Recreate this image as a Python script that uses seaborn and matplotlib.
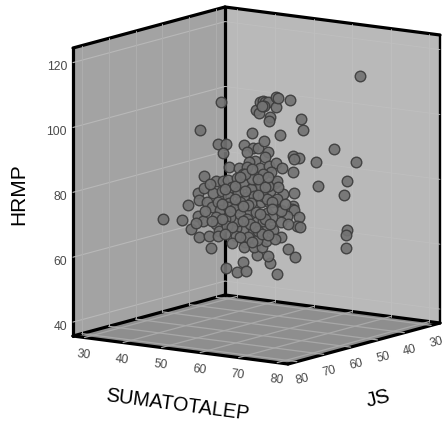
import matplotlib
matplotlib.use('Agg')
import pandas as pd
import matplotlib.pyplot as plt
import seaborn as sns

# values (depth along JS is an estimate)
sumatotalep = [
    74.8, 49.2, 47.2, 48.4, 43.5, 46.2, 44.8, 44.3, 50.4, 55.2,
    50.2, 54.0, 58.8, 49.8, 52.4, 54.4, 60.6, 54.5, 49.4, 55.9,
    55.8, 54.6, 60.0, 65.0, 55.2, 64.4, 60.9, 65.9, 68.1, 57.5,
    67.0, 62.9, 58.4, 61.6, 51.3, 55.5, 59.3, 53.1, 57.1, 61.4,
    49.8, 56.5, 60.0, 64.0, 63.6,
    68.0, 66.8, 73.7, 71.4, 67.4, 70.6, 71.4, 74.6, 71.1, 64.6,
    65.3, 61.3, 60.9, 64.1, 68.1, 65.9, 61.9, 66.2, 66.3, 57.8,
    61.3, 64.8, 63.1, 61.4, 60.2, 61.9, 54.4, 55.0, 54.9, 47.0,
    46.3, 55.7,
    34.1, 42.6, 40.6, 44.9, 43.2, 48.0, 42.7, 47.0, 46.1, 50.1,
    43.2, 47.0, 44.8, 49.1, 47.1, 51.4, 46.8, 44.9, 41.9, 45.9,
    49.7, 47.5, 44.0, 47.8, 52.0, 50.1, 46.3, 51.7, 55.9, 47.1,
    49.8, 56.2, 51.3, 57.6, 59.6, 54.6, 53.7, 59.3, 54.9, 59.7,
    55.0, 53.1, 63.7, 60.5, 50.0, 61.4, 54.2, 53.1, 53.5, 51.0,
    47.1, 49.1, 62.9,
    58.9, 62.7, 53.6, 54.8, 57.2, 47.9, 49.6, 53.3, 44.5, 47.9,
    51.4, 48.7, 44.9, 46.1, 48.5, 55.4, 48.2, 54.2, 59.8, 53.9,
    55.0,
    49.2, 50.6, 50.2, 48.9, 60.1, 53.2, 51.8, 50.7, 54.9,
    57.6, 56.7, 48.0, 45.9, 56.2, 53.6, 58.9,
    57.2, 47.9,
    42.8, 46.7, 49.3, 51.9, 55.3, 57.1, 58.9, 62.3, 63.1, 58.4,
    55.8, 51.4, 48.5, 46.7, 50.6, 53.7, 56.3, 59.7, 43.3, 41.5,
    45.9, 49.3, 55.3, 57.9, 51.9, 50.6, 53.7, 54.5, 57.9, 56.3,
]
js = [
    45, 60, 65, 60, 50, 55, 60, 50, 55, 60,
    50, 55, 60, 45, 55, 50, 60, 55, 50, 60,
    55, 50, 55, 60, 50, 55, 50, 55, 60, 50,
    55, 50, 55, 60, 50, 55, 60, 50, 55, 60,
    45, 50, 55, 60, 55,
    45, 50, 45, 45, 50, 45, 45, 50, 45, 55,
    60, 55, 50, 55, 60, 55, 50, 55, 60, 50,
    55, 60, 55, 50, 55, 60, 50, 55, 60, 55,
    50, 60,
    60, 65, 60, 65, 60, 65, 60, 65, 60, 65,
    60, 65, 60, 65, 60, 65, 60, 55, 50, 55,
    60, 55, 50, 55, 60, 55, 50, 55, 60, 50,
    55, 60, 50, 55, 60, 50, 55, 60, 50, 55,
    55, 50, 60, 55, 50, 60, 55, 50, 55, 60,
    50, 55, 60,
    55, 60, 50, 55, 60, 50, 55, 60, 50, 60,
    65, 60, 55, 50, 55, 60, 50, 55, 60, 50,
    55,
    50, 55, 60, 50, 60, 55, 50, 60, 60,
    55, 50, 55, 55, 60, 50, 55,
    60, 50,
    55, 55, 55, 55, 55, 55, 55, 55, 55, 55,
    55, 55, 55, 55, 55, 55, 55, 55, 55, 55,
    55, 55, 55, 55, 55, 55, 55, 55, 55, 55,
]
hrmp = [
    114.8, 106.0, 98.3, 93.0, 90.1, 88.8, 82.6, 83.1, 84.8, 93.8,
    94.5, 91.5, 93.3, 90.8, 90.0, 89.2, 90.9, 87.6, 85.4, 87.1,
    85.7, 85.0, 87.8, 88.2, 83.2, 85.7, 89.1, 90.3, 91.5, 95.0,
    99.1, 100.8, 101.8, 102.2, 101.8, 102.5, 107.6, 104.7, 106.2, 107.9,
    101.6, 103.5, 108.2, 109.6, 107.9,
    91.1, 88.1, 88.0, 81.9, 80.8, 77.4, 66.8, 66.8, 61.1, 79.3,
    80.2, 73.5, 73.6, 74.2, 75.7, 72.1, 67.6, 69.1, 73.6, 71.6,
    69.8, 66.9, 61.8, 57.9, 53.7, 58.4, 57.1, 58.6, 57.6, 53.4,
    51.0, 55.0,
    67.7, 69.7, 73.0, 67.4, 70.0, 70.3, 67.7, 65.2, 64.3, 62.3,
    77.1, 76.6, 78.9, 76.3, 77.7, 83.2, 73.4, 73.5, 69.4, 77.0,
    81.8, 80.7, 74.0, 73.6, 80.3, 77.4, 80.0, 80.0, 77.8, 72.7,
    72.7, 73.5, 70.3, 72.0, 76.9, 73.9, 79.1, 81.4, 77.3, 81.7,
    82.7, 82.2, 84.0, 80.5, 77.1, 82.0, 76.7, 75.4, 74.5, 74.0,
    70.8, 71.9, 77.7,
    71.0, 68.8, 65.7, 68.8, 67.2, 64.2, 66.2, 70.0, 67.7, 70.4,
    69.9, 66.3, 63.0, 62.1, 61.4, 63.9, 59.0, 61.0, 63.0, 61.8,
    63.3,
    72.2, 70.7, 70.2, 67.8, 71.0, 68.0, 64.5, 68.1, 74.9,
    76.3, 75.1, 71.2, 68.4, 65.5, 68.5, 75.6,
    83.6, 81.4,
    78.7, 77.8, 75.1, 78.0, 77.3, 80.0, 73.4, 75.6, 69.5, 68.8,
    71.5, 68.6, 66.3, 63.9, 63.6, 62.5, 65.3, 64.4, 67.3, 70.2,
    73.0, 79.1, 82.2, 83.2, 83.2, 82.1, 85.0, 67.3, 65.3, 104.8,
]
s_ticks = [30, 40, 50, 60, 70, 80]
j_ticks = [80, 70, 60, 50, 40, 30]
h_ticks = [40, 60, 80, 100, 120]

# axis ranges of the box
S0, S1 = 27.0, 82.8
J0, J1 = 26.7, 83.3   # J1 is the near end on the left wall
H0, H1 = 35.7, 124.5


def project(s, j, h):
    """Parallel projection of the 3D box onto figure pixels."""
    u = (s - S0) / (S1 - S0)
    v = (J1 - j) / (J1 - J0)
    w = (h - H0) / (H1 - H0)
    x = 73 + 215 * u + 152 * v
    y = 337 + 28 * u - 41 * v - 288 * w
    return x, y


def draw3d(ax, a, b, **kw):
    xa, ya = project(*a)
    xb, yb = project(*b)
    ax.plot([xa, xb], [ya, yb], **kw)


def fill3d(ax, corners, color):
    pts = [project(*c) for c in corners]
    ax.fill([p[0] for p in pts], [p[1] for p in pts], color=color, lw=0, zorder=1)


sns.set_theme(style='white')
plt.rcParams['font.family'] = ['Liberation Sans', 'DejaVu Sans']

fig = plt.figure(figsize=(4.45, 4.27), dpi=100)
ax = fig.add_axes([0, 0, 1, 1])
ax.set_xlim(0, 445)
ax.set_ylim(427, 0)
ax.axis('off')

# walls and floor
fill3d(ax, [(S0, J1, H0), (S0, J0, H0), (S0, J0, H1), (S0, J1, H1)], '#a3a3a3')
fill3d(ax, [(S0, J0, H0), (S1, J0, H0), (S1, J0, H1), (S0, J0, H1)], '#b9b9b9')
fill3d(ax, [(S0, J1, H0), (S1, J1, H0), (S1, J0, H0), (S0, J0, H0)], '#8e8e8e')

# box frame
frame = dict(color='black', lw=2.3, zorder=2, solid_capstyle='round')
draw3d(ax, (S0, J1, H0), (S0, J1, H1), **frame)
draw3d(ax, (S0, J1, H1), (S0, J0, H1), **frame)
draw3d(ax, (S0, J0, H1), (S1, J0, H1), **frame)
draw3d(ax, (S1, J0, H1), (S1, J0, H0), color='black', lw=1.7, zorder=2)
draw3d(ax, (S0, J0, H0), (S0, J0, H1), **frame)
draw3d(ax, (S0, J1, H0), (S0, J0, H0), **frame)
draw3d(ax, (S0, J0, H0), (S1, J0, H0), **frame)
draw3d(ax, (S0, J1, H0), (S1, J1, H0), **frame)
draw3d(ax, (S1, J1, H0), (S1, J0, H0), **frame)

# grid lines on the three planes, they cut through the frame
wall_l_h = dict(color='#b8b8b8', lw=0.8, zorder=3)
wall_l_v = dict(color='#aeaeae', lw=0.7, zorder=3)
wall_r = dict(color='#bfbfbf', lw=0.6, zorder=3)
floor = dict(color='#a8a8a8', lw=0.9, zorder=3)
for h in h_ticks:
    draw3d(ax, (S0, J1, h), (S0, J0, h), **wall_l_h)
    draw3d(ax, (S0, J0, h), (S1, J0, h), **wall_r)
for j in j_ticks:
    draw3d(ax, (S0, j, H0), (S0, j, H1), **wall_l_v)
    draw3d(ax, (S0, j, H0), (S1, j, H0), **floor)
for s in s_ticks:
    draw3d(ax, (s, J0, H0), (s, J0, H1), **wall_r)
    draw3d(ax, (s, J1, H0), (s, J0, H0), **floor)

# the points
px, py = project(pd.Series(sumatotalep), pd.Series(js), pd.Series(hrmp))
df = pd.DataFrame({'px': px, 'py': py})
sns.scatterplot(data=df, x='px', y='py', ax=ax, s=58, color='#737373',
                edgecolor='#3c3c3c', linewidth=1.0, alpha=0.92, zorder=4, legend=False)
ax.set_xlabel('')
ax.set_ylabel('')

# tick labels
tick_kw = dict(fontsize=8.7, color='#4a4a4a', ha='center', va='center')
for s in s_ticks:
    x, y = project(s, J1, H0)
    ax.text(x - 1, y + 16.5, str(s), rotation=-7, **tick_kw)
for j in j_ticks:
    x, y = project(S1, j, H0)
    ax.text(x + 5.5, y + 16.5, str(j), rotation=14, **tick_kw)
for h in h_ticks:
    x, y = project(S0, J1, h)
    ax.text(x - 6, y + 3.5, str(h), fontsize=8.7, color='#4a4a4a', ha='right', va='center')

# axis titles
ax.text(19, 194, 'HRMP', rotation=90, fontsize=15, color='black', ha='center', va='center')
ax.text(177, 405, 'SUMATOTALEP', rotation=-7.5, fontsize=14.3, color='black', ha='center', va='center')
ax.text(378, 399, 'JS', rotation=14, fontsize=15, color='black', ha='center', va='center')

fig.savefig('out.png', dpi=100)
plt.close(fig)
